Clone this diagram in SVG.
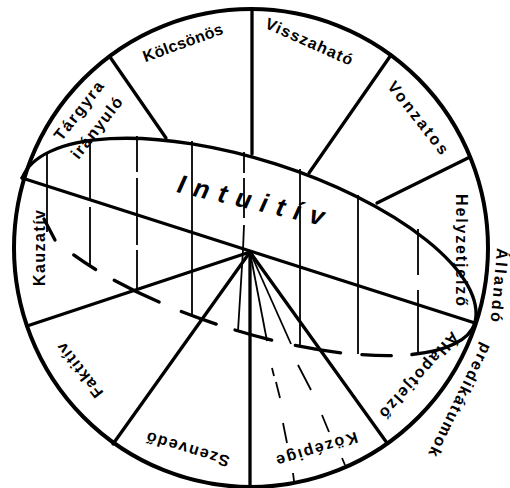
<svg xmlns="http://www.w3.org/2000/svg" width="510" height="488" viewBox="0 0 510 488">
<style>
.thick{fill:none;stroke:#000;stroke-width:3.3;stroke-linecap:round;stroke-linejoin:round}
.thin{fill:none;stroke:#000;stroke-width:1.8}
.lbl{font-family:"Liberation Sans",Arial,sans-serif;font-size:16px;font-weight:bold;fill:#000;text-anchor:middle}
.big{font-family:"Liberation Sans",Arial,sans-serif;font-size:26px;font-style:italic;font-weight:bold;fill:#000}
</style>
<rect width="510" height="488" fill="#fff"/>
<g id="connectors">
  <ellipse class="thick" cx="251" cy="248" rx="237" ry="239" style="stroke-width:4"/>
  <!-- ellipse upper (solid) arc -->
  <path class="thick" d="M22.1,178 A237.8,93 17.75 0 1 474.9,323"/>
  <!-- main axis -->
  <path class="thick" d="M22,178 L475,323"/>
  <!-- sector dividers -->
  <path class="thick" d="M252,9 L252,154"/>
  <path class="thick" d="M110,57 L166,138"/>
  <path class="thick" d="M391,55 L309,173"/>
  <path class="thick" d="M470,157 L377,203"/>
  <path class="thick" d="M27,326 L250,252"/>
  <path class="thick" d="M113,444 L250,252"/>
  <path class="thick" d="M250,252 L250,487"/>
  <path class="thick" d="M250,252 L387,443"/>
  <!-- ellipse lower (dashed) arc -->
  <path class="thick" d="M474.9,323 A237.8,80 17.75 0 1 411.9,354.5"/>
  <path class="thick" d="M391.3,355.7 A237.8,80 17.75 0 1 361.9,354.7"/>
  <path class="thick" d="M340.6,352.8 A237.8,80 17.75 0 1 295.3,345.4"/>
  <path class="thick" d="M271.7,340.1 A237.8,80 17.75 0 1 235,330"/>
  <path class="thick" d="M216.2,324.1 A237.8,80 17.75 0 1 181.3,311.5"/>
  <path class="thick" d="M159.1,302.1 A237.8,80 17.75 0 1 114.2,280.2"/>
  <path class="thick" d="M95.7,269.5 A237.8,80 17.75 0 1 73.7,254.9"/>
  <path class="thick" d="M55,240 L44,219"/>
  <!-- vertical hatching -->
  <path class="thin" d="M47,152 V232"/>
  <path class="thin" d="M90,139 V200 M90,207 V266"/>
  <path class="thin" d="M137,136 V172 M137,178 V245 M137,250 V292"/>
  <path class="thin" d="M192,141 V316"/>
  <path class="thin" d="M244,152 V173 M244,178 V218 M244,225 L243,250 L238,331"/>
  <path class="thin" d="M300,169 V347"/>
  <path class="thin" d="M358,195 V354"/>
  <path class="thin" d="M418,229 V275 M418,290 V353"/>
  <!-- fan lines from centre -->
  <path class="thin" d="M250,252 L267,341"/>
  <path class="thin" d="M250,252 L291,344"/>
  <path class="thin" d="M272,368 L274,376 M276,382 L280,398 M283,423 L287,443 M293,473 L294,481"/>
  <path class="thin" d="M298,365 L311,390 M322,415 L329,432 M342,458 L345,465"/>
</g>
<g id="intuitiv"><text class="big" transform="translate(176,192) rotate(13)" textLength="150" lengthAdjust="spacing">Intuitív</text></g>
<g id="kolcsonos"><text class="lbl" transform="translate(183,43) rotate(-20)" dy="0.32em" textLength="84" lengthAdjust="spacing">Kölcsönös</text></g>
<g id="visszahato"><text class="lbl" transform="translate(309,42) rotate(24)" dy="0.32em" textLength="94" lengthAdjust="spacing">Visszaható</text></g>
<g id="vonzatos"><text class="lbl" transform="translate(418,118) rotate(52)" dy="0.32em" textLength="88" lengthAdjust="spacing">Vonzatos</text></g>
<g id="helyzetjelzo"><text class="lbl" transform="translate(461,250) rotate(90)" dy="0.32em" textLength="112" lengthAdjust="spacing">Helyzetjelző</text></g>
<g id="allando"><text class="lbl" transform="translate(499,285) rotate(95)" dy="0.32em" textLength="74" lengthAdjust="spacing">Állandó</text></g>
<g id="predikatumok"><text class="lbl" transform="translate(460,400) rotate(116)" dy="0.32em" textLength="124" lengthAdjust="spacing">predikátumok</text></g>
<g id="allapotjelzo"><text class="lbl" transform="translate(419,375) rotate(132)" dy="0.32em" textLength="110" lengthAdjust="spacing">Állapotjelző</text></g>
<g id="kozepige"><text class="lbl" transform="translate(317,449) rotate(163)" dy="0.32em" textLength="84" lengthAdjust="spacing">Középige</text></g>
<g id="szenvedo"><text class="lbl" transform="translate(188,449) rotate(197)" dy="0.32em" textLength="86" lengthAdjust="spacing">Szenvedő</text></g>
<g id="faktitiv"><text class="lbl" transform="translate(80,370) rotate(232)" dy="0.32em" textLength="65" lengthAdjust="spacing">Faktitív</text></g>
<g id="kauzativ"><text class="lbl" transform="translate(40,248) rotate(-90)" dy="0.32em" textLength="76" lengthAdjust="spacing">Kauzatív</text></g>
<g id="targyra"><text class="lbl" transform="translate(79,111) rotate(-52)" dy="0.32em" textLength="70" lengthAdjust="spacing">Tárgyra</text><text class="lbl" transform="translate(97,128) rotate(-52)" dy="0.32em" textLength="73" lengthAdjust="spacing">irányuló</text></g>
</svg>
